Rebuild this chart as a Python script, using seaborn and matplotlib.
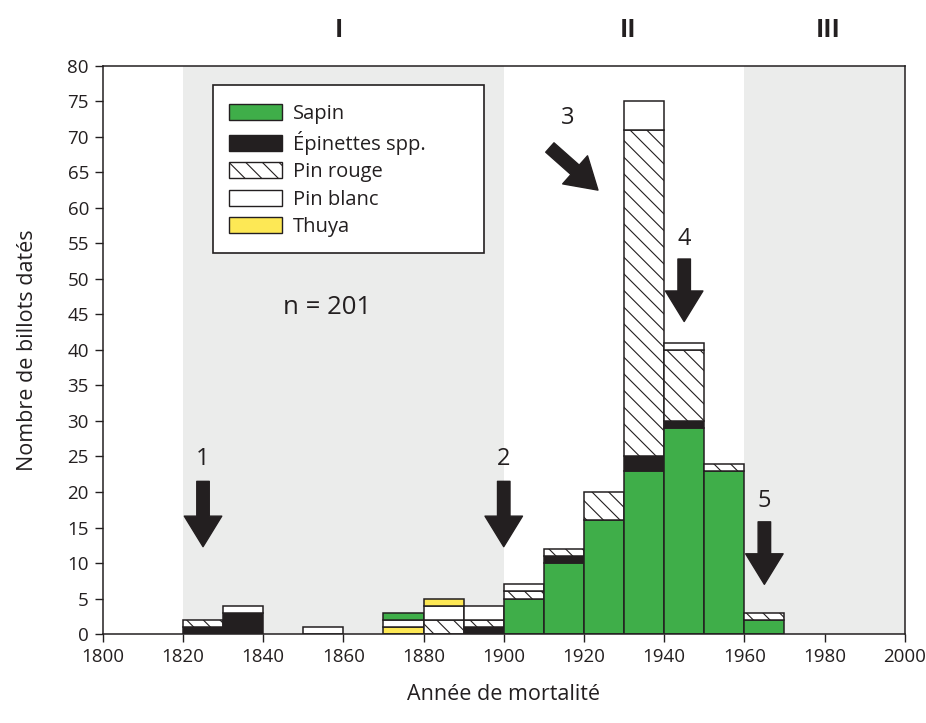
import numpy as np
import pandas as pd
import seaborn as sns
import matplotlib.pyplot as plt
from matplotlib.patches import Patch, Rectangle

# --- Data: dated logs per decade of mortality ---
decades = [1820, 1830, 1840, 1850, 1860, 1870, 1880, 1890, 1900, 1910, 1920, 1930, 1940, 1950, 1960]
sapin = [0, 0, 0, 0, 0, 1, 0, 0, 5, 10, 16, 23, 29, 23, 2]
epinettes = [1, 3, 0, 0, 0, 0, 0, 1, 0, 1, 0, 2, 1, 0, 0]
pin_rouge = [1, 0, 0, 0, 0, 0, 2, 1, 1, 1, 4, 46, 10, 1, 1]
pin_blanc = [0, 1, 0, 1, 0, 1, 2, 2, 1, 0, 0, 4, 1, 0, 0]
thuya = [0, 0, 0, 0, 0, 1, 1, 0, 0, 0, 0, 0, 0, 0, 0]

species = ["Sapin", "Épinettes spp.", "Pin rouge", "Pin blanc", "Thuya"]
counts = dict(zip(species, [sapin, epinettes, pin_rouge, pin_blanc, thuya]))

# stacking order (bottom -> top); 1870 is stacked differently in the original
default_order = species
order_override = {1870: ["Thuya", "Pin blanc", "Sapin"]}

styles = {
    "Sapin": dict(facecolor="#3fae49", hatch=None),
    "Épinettes spp.": dict(facecolor="#231f20", hatch=None),
    "Pin rouge": dict(facecolor="white", hatch="\\\\"),
    "Pin blanc": dict(facecolor="white", hatch=None),
    "Thuya": dict(facecolor="#fde855", hatch=None),
}

sns.set_theme(style="ticks")
plt.rcParams["font.family"] = ["Open Sans", "DejaVu Sans"]
plt.rcParams["hatch.linewidth"] = 0.8
plt.rcParams["hatch.color"] = "#231f20"

dark = "#231f20"
fig = plt.figure(figsize=(9.26, 7.23), dpi=100)
ax = fig.add_axes([0.111, 0.123, 0.866, 0.786])

# shaded periods I and III
ax.axvspan(1820, 1900, color="#ebeceb", zorder=0, lw=0)
ax.axvspan(1960, 2000, color="#ebeceb", zorder=0, lw=0)

df = pd.DataFrame(counts, index=decades)
for dec in decades:
    bottom = 0
    for sp in order_override.get(dec, default_order):
        val = df.loc[dec, sp]
        if val == 0:
            continue
        ax.bar(dec, val, width=10, bottom=bottom, align="edge",
               edgecolor=dark, linewidth=1.1, zorder=2, **styles[sp])
        bottom += val

ax.set_xlim(1800, 2000)
ax.set_ylim(0, 80)
ax.set_xticks(np.arange(1800, 2001, 20))
ax.set_yticks(np.arange(0, 81, 5))
ax.tick_params(direction="out", length=6, width=1, colors=dark,
               labelsize=13.5, labelcolor=dark, pad=4)
for s in ax.spines.values():
    s.set_color(dark)
    s.set_linewidth(1.1)

ax.set_xlabel("Année de mortalité", fontsize=15.5, labelpad=13, color=dark)
ax.set_ylabel("Nombre de billots datés", fontsize=15.5, labelpad=21, color=dark)

# period labels above the plot
for lbl, xpos in [("I", 1859), ("II", 1931), ("III", 1981)]:
    ax.text(xpos, 85.0, lbl, ha="center", va="center", fontsize=18,
            fontweight="bold", color=dark, clip_on=False)

# numbered arrows
arrow_kw = dict(facecolor=dark, edgecolor=dark, width=9,
                headwidth=27, headlength=22, shrink=0)
arrows = [
    ("1", (1825, 21.5), (1825, 12.3), (1825, 24.6)),
    ("2", (1900, 21.5), (1900, 12.3), (1900, 24.6)),
    ("3", (1911.5, 68.5), (1923.5, 62.5), (1916, 72.6)),
    ("4", (1945, 52.8), (1945, 44.0), (1945, 55.6)),
    ("5", (1965, 15.8), (1965, 7.0), (1965, 18.7)),
]
for num, start, end, txt in arrows:
    ax.annotate("", xy=end, xytext=start, arrowprops=arrow_kw, zorder=3)
    ax.text(txt[0], txt[1], num, ha="center", va="center", fontsize=17,
            color=dark)

ax.text(1856, 46, "n = 201", ha="center", va="center", fontsize=18.5,
        color=dark)

# legend: box drawn separately so it keeps the wide frame of the original
ax.add_patch(Rectangle((0.137, 0.671), 0.339, 0.2955, transform=ax.transAxes,
                       facecolor="white", edgecolor=dark, linewidth=1.2,
                       zorder=4))
handles = [Patch(edgecolor=dark, linewidth=1, label=sp, **styles[sp])
           for sp in species]
leg = ax.legend(handles=handles, loc="upper left", bbox_to_anchor=(0.158, 0.933),
                fontsize=14.5, frameon=False, handlelength=2.6,
                handleheight=0.85, borderpad=0, labelspacing=0.36,
                handletextpad=0.55, borderaxespad=0)
for t in leg.get_texts():
    t.set_color(dark)
leg.set_zorder(5)

fig.savefig("out.png", dpi=100)
